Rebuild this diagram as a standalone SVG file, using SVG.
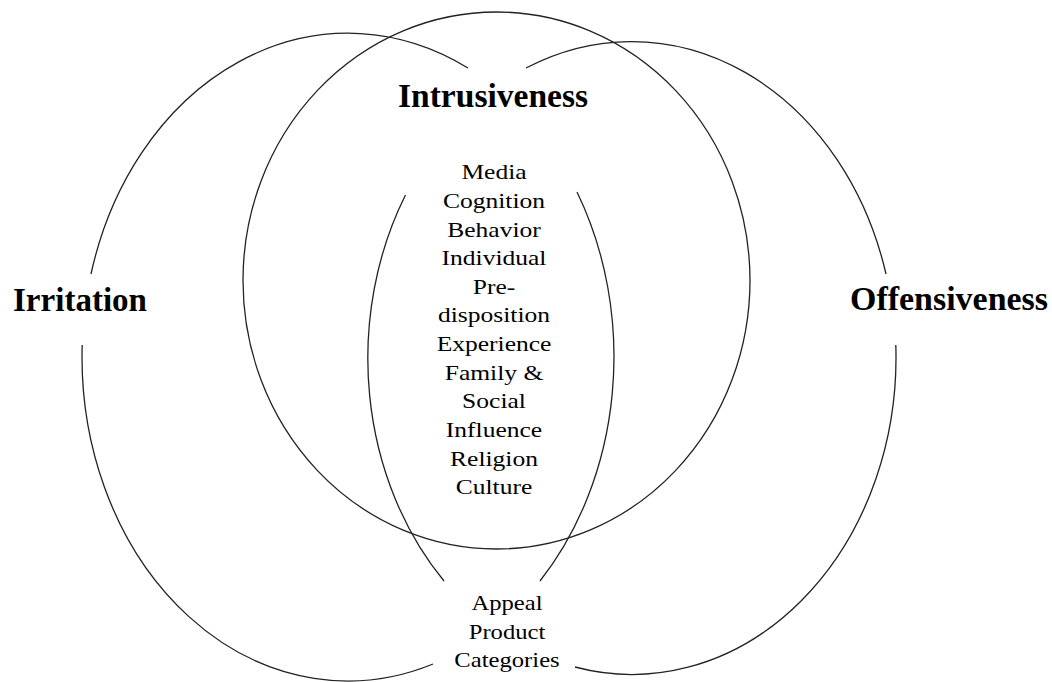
<svg xmlns="http://www.w3.org/2000/svg" width="1052" height="682" viewBox="0 0 1052 682">
<style>
.arc{fill:none;stroke:#222;stroke-width:1.3}
.title{font-family:"Liberation Serif","Times New Roman",serif;font-weight:bold;font-size:34px;fill:#000}
.item{font-family:"Liberation Serif","Times New Roman",serif;font-size:22px;fill:#000;text-anchor:middle}
</style>
<rect width="1052" height="682" fill="#fff"/>
<g id="connectors">
<!-- Intrusiveness circle -->
<ellipse class="arc" cx="496.5" cy="280.5" rx="253.5" ry="268.5"/>
</g>
<g id="irritation">
<path class="arc" d="M91,274 A266,324 0 0 1 468,68"/>
<path class="arc" d="M577,192 A266,324 0 0 1 540,581"/>
<path class="arc" d="M433,664 A266,324 0 0 1 82.2,345"/>
<text class="title" x="13" y="311" textLength="134" lengthAdjust="spacingAndGlyphs">Irritation</text>
</g>
<g id="offensiveness">
<path class="arc" d="M526,68 A264,317 0 0 1 886,274"/>
<path class="arc" d="M895.8,345 A264,317 0 0 1 575,667"/>
<path class="arc" d="M444,581 A264,317 0 0 1 405.5,195"/>
<text class="title" x="850" y="310" textLength="198" lengthAdjust="spacingAndGlyphs">Offensiveness</text>
</g>
<g id="intrusiveness">
<text class="title" x="398" y="107" textLength="190" lengthAdjust="spacingAndGlyphs">Intrusiveness</text>
</g>
<g id="core-factors" transform="translate(494,0) scale(1.16,1)">
<text class="item" x="0" y="179">Media</text>
<text class="item" x="0" y="208">Cognition</text>
<text class="item" x="0" y="237">Behavior</text>
<text class="item" x="0" y="265">Individual</text>
<text class="item" x="0" y="294">Pre-</text>
<text class="item" x="0" y="322">disposition</text>
<text class="item" x="0" y="351">Experience</text>
<text class="item" x="0" y="380">Family &amp;</text>
<text class="item" x="0" y="408">Social</text>
<text class="item" x="0" y="437">Influence</text>
<text class="item" x="0" y="466">Religion</text>
<text class="item" x="0" y="494">Culture</text>
</g>
<g id="appeal" transform="translate(507,0) scale(1.12,1)">
<text class="item" x="0" y="610">Appeal</text>
<text class="item" x="0" y="639">Product</text>
<text class="item" x="0" y="667">Categories</text>
</g>
</svg>
